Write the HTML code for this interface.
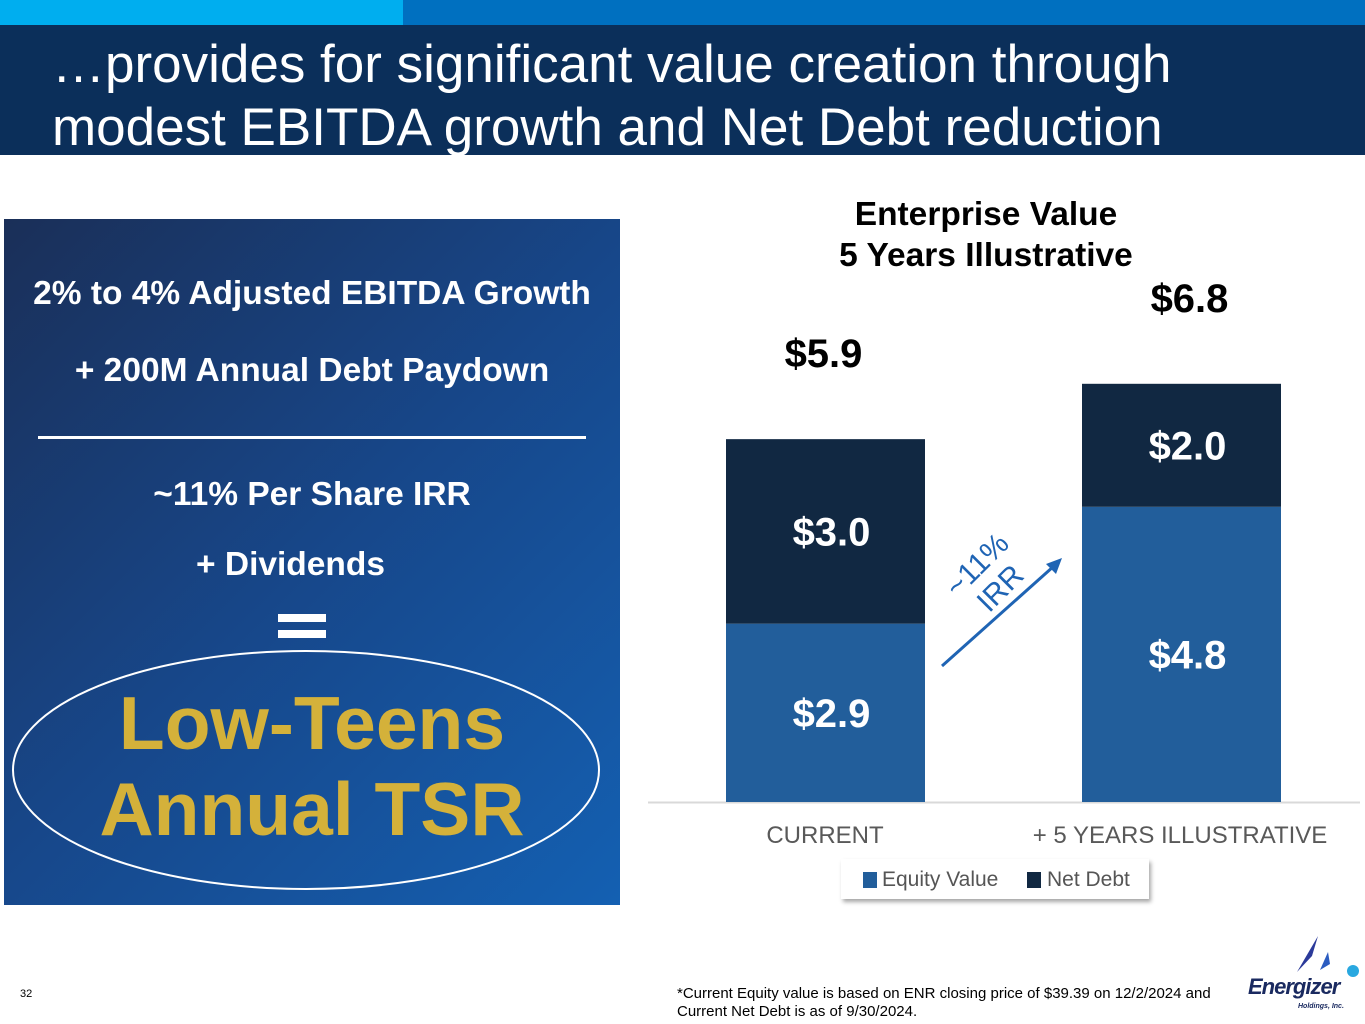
<!DOCTYPE html>
<html><head><meta charset="utf-8"><style>
body{margin:0;width:1365px;height:1024px;position:relative;overflow:hidden;background:#fff;font-family:"Liberation Sans",Arial,sans-serif}
.a{position:absolute}
</style></head><body>
<div class="a" style="left:0;top:0;width:403px;height:25px;background:#00AEEF"></div>
<div class="a" style="left:403px;top:0;width:962px;height:25px;background:#0070C0"></div>
<div class="a" style="left:0;top:25px;width:1365px;height:130px;background:#0B2F5A"></div>
<div class="a" style="left:52px;top:33px;color:#fff;font-size:53px;line-height:63px;white-space:nowrap">…provides for significant value creation through<br>modest EBITDA growth and Net Debt reduction</div>

<div class="a" style="left:4px;top:219px;width:616px;height:686px;background:linear-gradient(135deg,#1A2F58 0%,#17478A 50%,#1460B2 100%)"></div>
<div class="a" style="left:4px;width:616px;top:275px;text-align:center;color:#fff;font-weight:bold;font-size:33.5px;white-space:nowrap">2% to 4% Adjusted EBITDA Growth</div>
<div class="a" style="left:4px;width:616px;top:352px;text-align:center;color:#fff;font-weight:bold;font-size:33.5px">+ 200M Annual Debt Paydown</div>
<div class="a" style="left:38px;top:436px;width:548px;height:3px;background:#fff"></div>
<div class="a" style="left:4px;width:616px;top:476px;text-align:center;color:#fff;font-weight:bold;font-size:33.5px">~11% Per Share IRR</div>
<div class="a" style="left:196px;top:546px;color:#fff;font-weight:bold;font-size:33.5px">+ Dividends</div>
<div class="a" style="left:278px;top:614px;width:48px;height:8px;background:#fff;box-shadow:0 16px 0 #fff"></div>
<svg class="a" style="left:0;top:640px" width="620" height="260"><ellipse cx="306" cy="130" rx="293" ry="119" fill="none" stroke="#fff" stroke-width="2"/></svg>
<div class="a" style="left:4px;width:616px;top:680px;text-align:center;color:#D4B13A;font-weight:bold;font-size:75px;line-height:86px">Low-Teens<br>Annual TSR</div>

<div class="a" style="left:786px;width:400px;top:194px;text-align:center;font-weight:bold;font-size:33.5px;line-height:41px;color:#000">Enterprise Value<br>5 Years Illustrative</div>

<svg id="chart" class="a" style="left:0;top:0" width="1365" height="1024"></svg>

<div class="a" style="left:841px;top:859px;width:308px;height:40px;background:#fff;box-shadow:2px 3px 4px rgba(0,0,0,0.35);font-size:21px;color:#555">
<span class="a" style="left:22px;top:13px;width:14px;height:16px;background:#225E9B"></span><span class="a" style="left:41px;top:9px">Equity Value</span>
<span class="a" style="left:186px;top:13px;width:14px;height:16px;background:#112842"></span><span class="a" style="left:206px;top:9px">Net Debt</span>
</div>

<div class="a" style="left:20px;top:988px;font-size:11px;color:#000">32</div>
<div class="a" style="left:677px;top:985px;font-size:15px;line-height:18px;color:#000;white-space:nowrap">*Current Equity value is based on ENR closing price of $39.39 on 12/2/2024 and<br>Current Net Debt is as of 9/30/2024.</div>
<svg class="a" style="left:1280px;top:930px" width="80" height="50"><path d="M17 42 L38 6 L32 26 Z" fill="#2B3A9A"/><path d="M40 40 L48 22 L50 34 Z" fill="#2B5CC0"/><circle cx="73" cy="41" r="6" fill="#29A8E0"/></svg>
<div class="a" style="left:1248px;top:974px;font-size:22px;font-weight:bold;font-style:italic;color:#1a2a60;letter-spacing:-1px">Energizer</div>
<div class="a" style="left:1298px;top:1003px;font-size:7px;font-style:italic;font-weight:bold;color:#1a2a60">Holdings, Inc.</div>

<script>
const categories=["CURRENT","+ 5 YEARS ILLUSTRATIVE"];
const equity=[2.9,4.8];
const debt=[3.0,2.0];
const totals=[5.9,6.8];
const svg=document.getElementById('chart');
const NS='http://www.w3.org/2000/svg';
const base=802, k=61.5, barW=199, xs=[726,1082];
function y(v){return base-v*k;}
function mk(t,a){const e=document.createElementNS(NS,t);for(const n in a)e.setAttribute(n,a[n]);svg.appendChild(e);return e;}
const ax=mk('line',{x1:648,x2:1360,y1:base+0.5,y2:base+0.5,stroke:'#d9d9d9','stroke-width':2});


categories.forEach((c,i)=>{
  const x=xs[i];
  const r1=mk('rect',{x:x,y:y(equity[i]),width:barW,height:equity[i]*k,fill:'#225E9B'});
  
  
  const r2=mk('rect',{x:x,y:y(equity[i]+debt[i]),width:barW,height:debt[i]*k,fill:'#112842'});
  
  
  const cx=x+barW/2+6;
  const t1=mk('text',{x:cx,y:(y(equity[i])+base)/2+14,'text-anchor':'middle',fill:'#fff','font-weight':'bold','font-size':40});
  t1.textContent='$'+equity[i].toFixed(1);
  
  
  const t2=mk('text',{x:cx,y:(y(equity[i]+debt[i])+y(equity[i]))/2+14,'text-anchor':'middle',fill:'#fff','font-weight':'bold','font-size':40});
  t2.textContent='$'+debt[i].toFixed(1);
  
  
  const t3=mk('text',{x:cx-(i==0?8:-2),y:y(totals[i])-72,'text-anchor':'middle',fill:'#000','font-weight':'bold','font-size':40});
  t3.textContent='$'+totals[i].toFixed(1);
  
  
  const t4=mk('text',{x:i==0?825:1180,y:843,'text-anchor':'middle',fill:'#595959','font-size':24});
  t4.textContent=c;
  
  
});
const ar=mk('line',{x1:942,y1:666,x2:1054,y2:566,stroke:'#1F64B4','stroke-width':3});


const ah=mk('polygon',{points:'1062,558 1046,564 1056,574',fill:'#1F64B4'});


const g=mk('text',{x:0,y:0,'text-anchor':'middle',fill:'#1F64B4','font-size':30,transform:'translate(984,572) rotate(-45)'});


g.innerHTML='<tspan x="0" dy="0">~11%</tspan><tspan x="0" dy="33">IRR</tspan>';
</script>
</body></html>
